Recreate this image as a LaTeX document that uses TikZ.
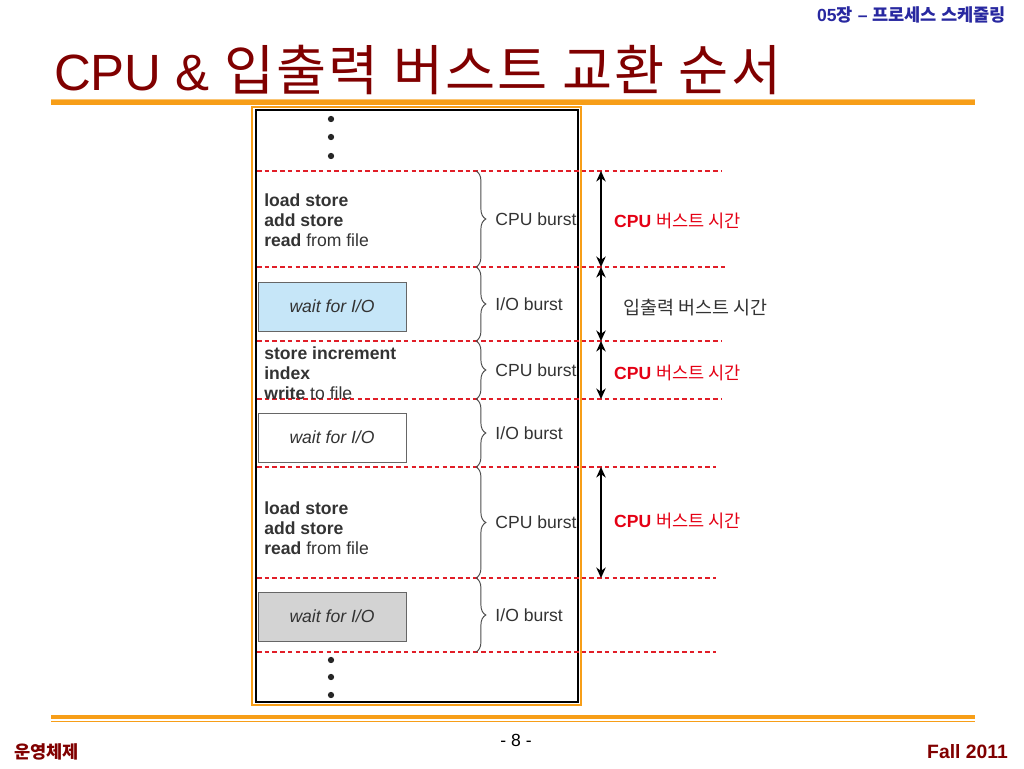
\documentclass[tikz,border=0pt]{standalone}
\usepackage{fontspec}
\setmainfont{Liberation Sans}
\newfontfamily\kr{Noto Sans CJK KR}
\usepackage{tikz}
\usetikzlibrary{arrows.meta,positioning,decorations.pathreplacing}
\definecolor{titlered}{RGB}{128,0,0}
\definecolor{headblue}{RGB}{40,40,160}
\definecolor{barorange}{RGB}{247,158,24}
\definecolor{cutred}{RGB}{225,30,40}
\definecolor{labelred}{RGB}{228,0,20}
\definecolor{waitblue}{RGB}{198,230,248}
\definecolor{waitgray}{RGB}{211,211,211}
\definecolor{inkgray}{RGB}{51,51,51}

\begin{document}
\begin{tikzpicture}[x=0.02cm, y=-0.02cm, >={Stealth[length=6pt,width=5.4pt]}, font=\fontsize{10}{11.3}\selectfont,
    code/.style={anchor=west, align=left, inner sep=0pt, text=inkgray},
    wait/.style={draw=gray!80!black, minimum width=2.96cm, minimum height=0.98cm, inner sep=0pt, font=\itshape, text=inkgray},
    brace/.style={decorate, decoration={brace, amplitude=5.6pt}, draw=gray!60!black, line width=0.55pt},
    burst/.style={anchor=west, xshift=0.38cm, inner sep=0pt, text=inkgray},
    cut/.style={draw=cutred, line width=0.6pt, dash pattern=on 2.6pt off 1.8pt},
    span/.style={<->, line width=0.8pt}]
   \useasboundingbox (0,0) rectangle (1024,768);
   % header and title
   \node[anchor=east, text=headblue] (hd) at (1012,15) {\bfseries 05{\kr\bfseries 장} -- {\kr\bfseries 프로세스 스케줄링}};
   \node[anchor=west, text=titlered, font=\fontsize{29}{30}\selectfont] (ttl) at (48,70) {CPU \& {\kr\fontsize{31}{32}\selectfont\addfontfeature{LetterSpace=4} 입출력 버스트 교환 순서}};
   \draw[barorange, line width=2.8pt] (51,102.5) -- (975,102.5);
   \draw[barorange!60, line width=0.5pt] (51,99.5) -- (975,99.5);
   % picture frame
   \draw[barorange, line width=1.6pt] (252,107) rectangle (581,705);
   \draw[black, line width=1.2pt] (256,110) rectangle (578,702);
   \foreach \y/\e in {171/722, 267/725, 341/722, 399/722, 467/716, 578/716, 652/716}
     \draw[cut] (257,\y) -- (\e,\y);
   \foreach \y in {119,137,156,660,677,695}
     \fill[black!85] (331,\y) circle (1.8pt);
   \begin{scope}
    \node[code] (c1) at (264,220) {\textbf{load store}\\\textbf{add store}\\\textbf{read} from file};
    \node[code] (c2) at (264,373) {\textbf{store increment}\\\textbf{index}\\\textbf{write} to file};
    \node[code] (c3) at (264,528) {\textbf{load store}\\\textbf{add store}\\\textbf{read} from file};
    \node[wait, fill=waitblue] (w1) at (332,306.5) {wait for I/O};
    \node[wait, fill=white] (w2) at (332,437.5) {wait for I/O};
    \node[wait, fill=waitgray] (w3) at (332,616.5) {wait for I/O};
   \end{scope}
   % braces
   \foreach \i/\y in {0/171, 1/267, 2/341, 3/399, 4/467, 5/578, 6/652}
     \coordinate (b\i) at (476,\y);
   \draw[brace] (b0) -- node[burst] (u1) {CPU burst} (b1);
   \draw[brace] (b1) -- node[burst] (u2) {I/O burst} (b2);
   \draw[brace] (b2) -- node[burst] (u3) {CPU burst} (b3);
   \draw[brace] (b3) -- node[burst] (u4) {I/O burst} (b4);
   \draw[brace] (b4) -- node[burst] (u5) {CPU burst} (b5);
   \draw[brace] (b5) -- node[burst] (u6) {I/O burst} (b6);
   % burst times
   \foreach \i/\y in {0/171, 1/267, 2/341, 3/399, 4/467, 5/578}
     \coordinate (a\i) at (601,\y);
   \draw[span] (a0) -- (a1);
   \draw[span] (a1) -- (a2);
   \draw[span] (a2) -- (a3);
   \draw[span] (a4) -- (a5);
   \node[anchor=west, text=labelred] (t1) at (608,221) {\textbf{CPU} {\kr 버스트 시간}};
   \node[anchor=west, text=inkgray, font=\fontsize{10.5}{12}\selectfont] (t2) at (617,308) {\kr 입출력 버스트 시간};
   \node[anchor=west, text=labelred] (t3) at (608,373) {\textbf{CPU} {\kr 버스트 시간}};
   \node[anchor=west, text=labelred] (t4) at (608,521) {\textbf{CPU} {\kr 버스트 시간}};
   % footer
   \draw[barorange, line width=2.4pt] (51,717) -- (975,717);
   \draw[barorange, line width=0.6pt] (51,721.5) -- (975,721.5);
   \node (pg) at (516,740) {- 8 -};
   \node[anchor=west, text=titlered] (os) at (8,752) {\kr\bfseries 운영체제};
   \node[anchor=east, text=titlered, font=\bfseries\fontsize{11}{12}\selectfont] (term) at (1014,752) {Fall 2011};
\end{tikzpicture}
\end{document}
